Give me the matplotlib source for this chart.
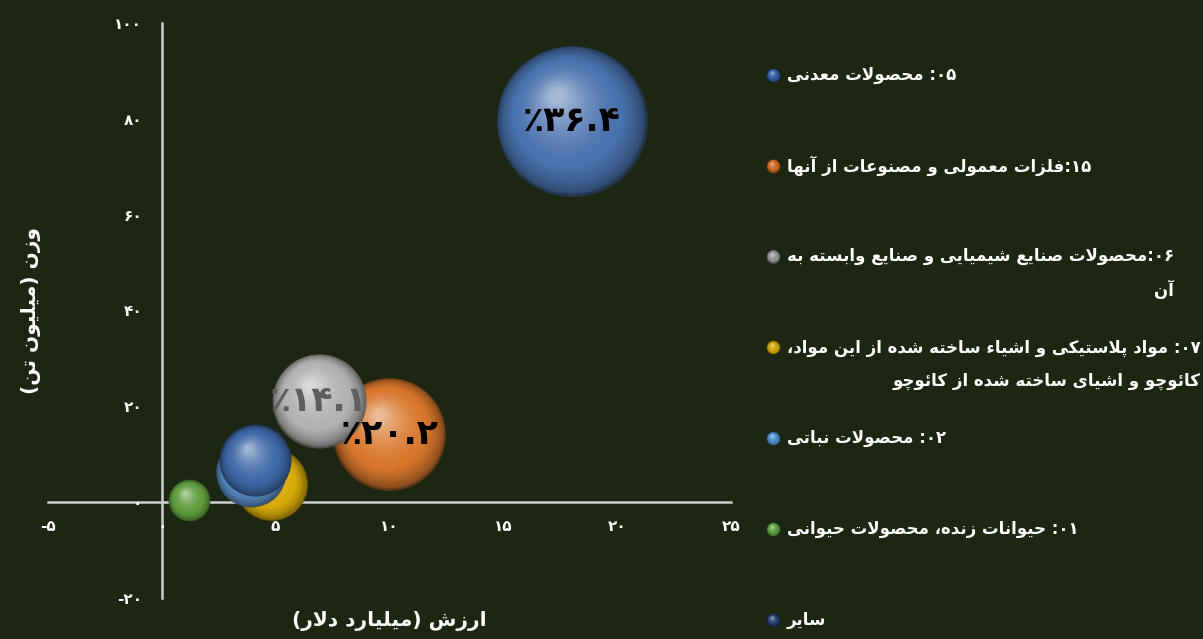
import re
import numpy as np
import matplotlib
matplotlib.use('Agg')
import matplotlib.pyplot as plt
from matplotlib.colors import to_rgb
from matplotlib.transforms import offset_copy

plt.rcParams['font.family'] = ['DejaVu Sans']

# ==========================================
# data
# ==========================================
categories = [
    '۰۵: محصولات معدنی',
    '۱۵:فلزات معمولی و مصنوعات از آنها',
    '۰۶:محصولات صنایع شیمیایی و صنایع وابسته به\nآن',
    '۰۷: مواد پلاستیکی و اشیاء ساخته شده از این مواد،\nکائوچو و اشیای ساخته شده از کائوچو',
    '۰۲: محصولات نباتی',
    '۰۱: حیوانات زنده، محصولات حیوانی',
    'سایر',
]
value_bn = [18.0, 10.0, 6.9, 4.8, 3.9, 1.2, 4.1]      # ارزش (میلیارد دلار)
weight_mt = [79.5, 14.3, 21.2, 3.7, 6.3, 0.4, 8.7]    # وزن (میلیون تن)
share_pct = [36.4, 20.2, 14.1, 8.5, 7.8, 2.8, 8.3]
show_share = [True, True, True, False, False, False, False]
bubble_colors = ['#4a72ae', '#d8772c', '#b2b2b0', '#d6a90a', '#5b8dc6', '#5e9b3c', '#3f68a6']
marker_colors = ['#2f5a9c', '#c8651e', '#8e8e8e', '#c9a000', '#4a88c2', '#5a9a3c', '#223a6c']
label_colors = ['black', 'black', '#5e5e5e']

xticks = [-5, 0, 5, 10, 15, 20, 25]
yticks = [-20, 0, 20, 40, 60, 80, 100]
xlabel = 'ارزش (میلیارد دلار)'
ylabel = 'وزن (میلیون تن)'

BG = '#1c2612'

# ==========================================
# simple arabic/persian shaping + rtl ordering
# ==========================================
_FORMS = {
    'ء': (0xFE80, 1), 'آ': (0xFE81, 2), 'أ': (0xFE83, 2), 'ؤ': (0xFE85, 2), 'إ': (0xFE87, 2),
    'ئ': (0xFE89, 4), 'ا': (0xFE8D, 2), 'ب': (0xFE8F, 4), 'ة': (0xFE93, 2), 'ت': (0xFE95, 4),
    'ث': (0xFE99, 4), 'ج': (0xFE9D, 4), 'ح': (0xFEA1, 4), 'خ': (0xFEA5, 4), 'د': (0xFEA9, 2),
    'ذ': (0xFEAB, 2), 'ر': (0xFEAD, 2), 'ز': (0xFEAF, 2), 'س': (0xFEB1, 4), 'ش': (0xFEB5, 4),
    'ص': (0xFEB9, 4), 'ض': (0xFEBD, 4), 'ط': (0xFEC1, 4), 'ظ': (0xFEC5, 4), 'ع': (0xFEC9, 4),
    'غ': (0xFECD, 4), 'ف': (0xFED1, 4), 'ق': (0xFED5, 4), 'ك': (0xFED9, 4), 'ل': (0xFEDD, 4),
    'م': (0xFEE1, 4), 'ن': (0xFEE5, 4), 'ه': (0xFEE9, 4), 'و': (0xFEED, 2), 'ى': (0xFEEF, 2),
    'ي': (0xFEF1, 4), 'پ': (0xFB56, 4), 'چ': (0xFB7A, 4), 'ژ': (0xFB8A, 2), 'ک': (0xFB8E, 4),
    'گ': (0xFB92, 4), 'ی': (0xFBFC, 4),
}
_LAM_ALEF = {'ا': 0xFEFB, 'آ': 0xFEF5, 'أ': 0xFEF7, 'إ': 0xFEF9}


def _fwd(ch):
    return ch in _FORMS and _FORMS[ch][1] == 4


def _back(ch):
    return ch in _FORMS and _FORMS[ch][1] > 1


def shape(text):
    out = []
    i = 0
    while i < len(text):
        ch = text[i]
        if ch not in _FORMS:
            out.append(ch)
            i += 1
            continue
        p = i > 0 and _fwd(text[i - 1])
        nxt = text[i + 1] if i + 1 < len(text) else ''
        if ch == 'ل' and nxt in _LAM_ALEF:
            out.append(chr(_LAM_ALEF[nxt] + (1 if p else 0)))
            i += 2
            continue
        base, k = _FORMS[ch]
        q = k == 4 and _back(nxt)
        if k == 1:
            form = 0
        elif p and q:
            form = 3
        elif p:
            form = 1
        elif q:
            form = 2
        else:
            form = 0
        out.append(chr(base + form))
        i += 1
    return ''.join(out)


_NUM = r'([0-9۰-۹٪][0-9۰-۹٪.]*)'
_MIRROR = str.maketrans('()', ')(')


def rtl(text):
    lines = []
    for line in text.split('\n'):
        parts = re.split(_NUM, shape(line))
        vis = []
        for part in reversed(parts):
            if re.fullmatch(_NUM, part):
                vis.append(part)
            else:
                vis.append(part[::-1].translate(_MIRROR))
        lines.append(''.join(vis))
    return '\n'.join(lines)


_FA = str.maketrans('0123456789', '۰۱۲۳۴۵۶۷۸۹')


def fa_num(v):
    s = ('%g' % abs(v)).translate(_FA)
    return '-' + s if v < 0 else s


def sphere(ax, x, y, s, color, zorder, n=36):
    base = np.array(to_rgb(color))
    dark = base * 0.5
    hi = base + (1 - base) * 0.5
    r = np.sqrt(s) / 2
    for k in range(n):
        t = k / (n - 1)
        if t < 0.3:
            c = dark + (base - dark) * (t / 0.3) ** 0.6
        else:
            u = (t - 0.3) / 0.7
            c = base + (hi - base) * u ** 1.6
        tr = offset_copy(ax.transData, fig=ax.figure, x=-0.2 * r * t, y=0.34 * r * t, units='points')
        ax.scatter([x], [y], s=s * (1 - 0.9 * t) ** 2, color=np.clip(c, 0, 1),
                   transform=tr, zorder=zorder, linewidths=0,
                   alpha=0.88 if k == 0 else 1.0, clip_on=False)


# ==========================================
# figure
# ==========================================
fig = plt.figure(figsize=(12.03, 6.39), dpi=100, facecolor=BG)
ax = fig.add_axes([48 / 1203, 41 / 639, 683 / 1203, 575 / 639])
ax.set_facecolor(BG)
ax.set_xlim(-5, 25)
ax.set_ylim(-20, 100)

for sp in ['top', 'right']:
    ax.spines[sp].set_visible(False)
ax.spines['left'].set_position(('data', 0))
ax.spines['bottom'].set_position(('data', 0))
for sp in ['left', 'bottom']:
    ax.spines[sp].set_color('#cfcfcf')
    ax.spines[sp].set_linewidth(1.8)
    ax.spines[sp].set_zorder(1)

ax.set_xticks(xticks, [fa_num(v) for v in xticks])
ax.set_yticks(yticks, [fa_num(v) for v in yticks])
ax.tick_params(axis='both', length=0, colors='white', labelsize=11)
ax.tick_params(axis='x', pad=12)
ax.tick_params(axis='y', pad=14)
for lab in ax.get_xticklabels() + ax.get_yticklabels():
    lab.set_fontweight('bold')

ax.set_xlabel(rtl(xlabel), fontsize=14.5, fontweight='bold', color='white')
ax.set_ylabel(rtl(ylabel), fontsize=14.5, fontweight='bold', color='white')
ax.xaxis.set_label_coords(0.5, -0.022)
ax.yaxis.set_label_coords(-0.01, 0.5)

SIZE_K = 325  # scatter area (pt^2) per percent of share
for i in range(len(categories)):
    sphere(ax, value_bn[i], weight_mt[i], share_pct[i] * SIZE_K, bubble_colors[i], zorder=3 + i)

for i in range(len(categories)):
    if show_share[i]:
        ax.text(value_bn[i], weight_mt[i], '٪' + fa_num(share_pct[i]), ha='center', va='center',
                fontsize=25, fontweight='bold', color=label_colors[i], zorder=20)

# legend
lax = fig.add_axes([0, 0, 1, 1])
lax.set_xlim(0, 1)
lax.set_ylim(0, 1)
lax.axis('off')
slot_top = 1 - 75 / 639
slot_step = 90.8 / 639
for i, cat in enumerate(categories):
    y = slot_top - i * slot_step
    sphere(lax, 773 / 1203, y, 100, marker_colors[i], zorder=3, n=12)
    nlines = cat.count('\n') + 1
    yc = y - (nlines - 1) * 17 / 639
    lax.text(787 / 1203, yc, rtl(cat), ha='left', va='center', multialignment='right',
             fontsize=12, fontweight='bold', color='white', linespacing=2.0)

fig.savefig('out.png', dpi=100, facecolor=BG)
